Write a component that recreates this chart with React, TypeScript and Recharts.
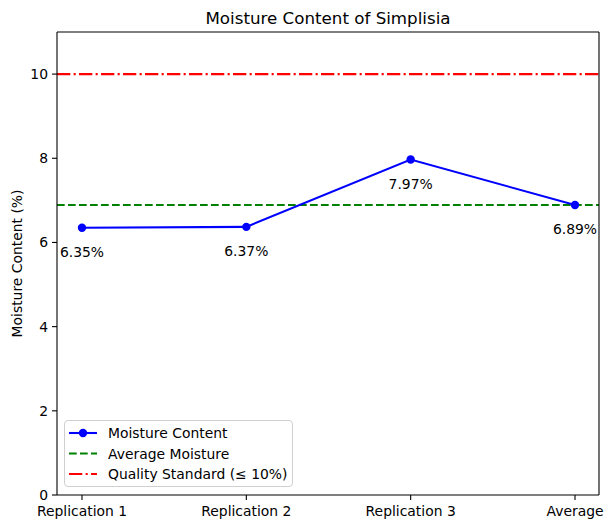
import React from "react";
import {
  LineChart,
  Line,
  XAxis,
  YAxis,
  ReferenceLine,
  LabelList,
} from "recharts";

const categories = ["Replication 1", "Replication 2", "Replication 3", "Average"];
const moisture = [6.35, 6.37, 7.97, 6.89];
const averageMoisture = 6.89;
const qualityStandard = 10;
const yTicks = [0, 2, 4, 6, 8, 10];

const data = categories.map((c, i) => ({ name: c, value: moisture[i] }));

const FONT = "DejaVu Sans, sans-serif";

const renderLabel = (props: any) => {
  const { x, y, value } = props;
  return (
    <text
      x={x}
      y={y + 24}
      textAnchor="middle"
      dominantBaseline="central"
      fontSize={13.9}
      fontFamily={FONT}
      fill="#000"
    >
      {`${Number(value).toFixed(2)}%`}
    </text>
  );
};

const LegendBox = () => {
  const rows = [
    { label: "Moisture Content", color: "blue", dash: undefined, marker: true },
    { label: "Average Moisture", color: "green", dash: "7.7 3.3", marker: false },
    { label: "Quality Standard (≤ 10%)", color: "red", dash: "13.3 3.3 2.1 3.3", marker: false },
  ];
  return (
    <div
      style={{
        position: "absolute",
        left: 64,
        top: 420,
        width: 229,
        height: 67,
        border: "1px solid #d0d0d0",
        borderRadius: 4,
        background: "rgba(255,255,255,0.8)",
        boxSizing: "border-box",
      }}
    >
      <svg width={229} height={67} style={{ position: "absolute", left: -1, top: -1 }}>
        {rows.map((r, i) => {
          const cy = 13 + i * 20.5;
          return (
            <g key={r.label}>
              <line
                x1={5}
                x2={33}
                y1={cy}
                y2={cy}
                stroke={r.color}
                strokeWidth={2.08}
                strokeDasharray={r.dash}
              />
              {r.marker && <circle cx={19} cy={cy} r={4.2} fill={r.color} />}
              <text
                x={44}
                y={cy}
                dominantBaseline="central"
                fontSize={13.9}
                fontFamily={FONT}
                fill="#000"
              >
                {r.label}
              </text>
            </g>
          );
        })}
      </svg>
    </div>
  );
};

export default function App() {
  return (
    <div style={{ position: "absolute", left: 0, top: 0, width: 611, height: 528, background: "#fff" }}>
      <div
        style={{
          position: "absolute",
          left: 57,
          width: 542,
          top: 8,
          textAlign: "center",
          fontFamily: FONT,
          fontSize: 16.7,
          lineHeight: "20px",
          color: "#000",
        }}
      >
        Moisture Content of Simplisia
      </div>
      <LineChart
        width={611}
        height={528}
        data={data}
        margin={{ top: 31, right: 11, bottom: 0, left: 0 }}
      >
        <XAxis
          dataKey="name"
          xAxisId="bottom"
          padding={{ left: 25, right: 24 }}
          tickSize={5}
          tickMargin={6}
          stroke="#000"
          tick={{ fill: "#000", fontSize: 13.9, fontFamily: FONT }}
          tickLine={{ stroke: "#000", strokeWidth: 1.1 }}
          axisLine={{ stroke: "#000", strokeWidth: 1.1 }}
          interval={0}
          height={33}
        />
        <XAxis
          dataKey="name"
          xAxisId="top"
          orientation="top"
          padding={{ left: 25, right: 24 }}
          tick={false}
          tickLine={false}
          stroke="#000"
          axisLine={{ stroke: "#000", strokeWidth: 1.1 }}
          height={1}
        />
        <YAxis
          yAxisId="left"
          domain={[0, 11]}
          ticks={yTicks}
          type="number"
          width={57}
          tickSize={5}
          tickMargin={4}
          tick={{ fill: "#000", fontSize: 13.9, fontFamily: FONT }}
          tickLine={{ stroke: "#000", strokeWidth: 1.1 }}
          axisLine={{ stroke: "#000", strokeWidth: 1.1 }}
          label={{
            value: "Moisture Content (%)",
            angle: -90,
            position: "insideLeft",
            offset: 17,
            style: { textAnchor: "middle", fontSize: 13.9, fontFamily: FONT, fill: "#000" },
          }}
        />
        <YAxis
          yAxisId="right"
          orientation="right"
          domain={[0, 11]}
          type="number"
          width={1}
          tick={false}
          tickLine={false}
          stroke="#000"
          axisLine={{ stroke: "#000", strokeWidth: 1.1 }}
        />
        <ReferenceLine
          xAxisId="bottom"
          yAxisId="left"
          y={averageMoisture}
          stroke="green"
          strokeWidth={2.08}
          strokeDasharray="7.7 3.3"
        />
        <ReferenceLine
          xAxisId="bottom"
          yAxisId="left"
          y={qualityStandard}
          stroke="red"
          strokeWidth={2.08}
          strokeDasharray="13.3 3.3 2.1 3.3"
        />
        <Line
          xAxisId="bottom"
          yAxisId="left"
          type="linear"
          dataKey="value"
          stroke="blue"
          strokeWidth={2.08}
          dot={{ r: 4.2, fill: "blue", stroke: "blue", strokeWidth: 0 }}
          activeDot={false}
          isAnimationActive={false}
        >
          <LabelList dataKey="value" content={renderLabel} />
        </Line>
      </LineChart>
      <LegendBox />
    </div>
  );
}
